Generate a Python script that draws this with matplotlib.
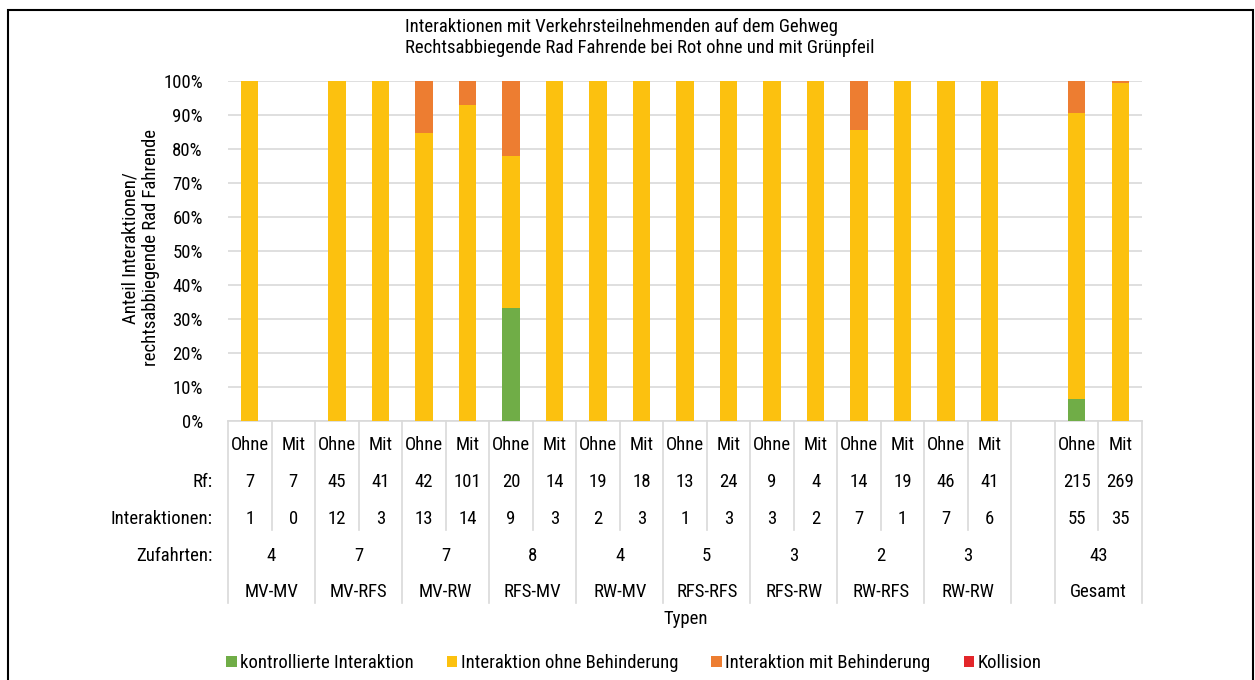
import matplotlib
matplotlib.use("Agg")
import matplotlib.pyplot as plt
from matplotlib.transforms import blended_transform_factory
from matplotlib.patches import Rectangle
import numpy as np

plt.rcParams['font.family'] = ['Roboto Condensed', 'DejaVu Sans']
FS = 13.5

# ---------------- data ----------------
groups = ["MV-MV", "MV-RFS", "MV-RW", "RFS-MV", "RW-MV", "RFS-RFS", "RFS-RW", "RW-RFS", "RW-RW", "Gesamt"]
zufahrten = ["4", "7", "7", "8", "4", "5", "3", "2", "3", "43"]
sub_labels = ["Ohne", "Mit"] * 10
rf = ["7", "7", "45", "41", "42", "101", "20", "14", "19", "18", "13", "24", "9", "4", "14", "19", "46", "41", "215", "269"]
interaktionen = ["1", "0", "12", "3", "13", "14", "9", "3", "2", "3", "1", "3", "3", "2", "7", "1", "7", "6", "55", "35"]

series_names = ["kontrollierte Interaktion", "Interaktion ohne Behinderung", "Interaktion mit Behinderung", "Kollision"]
kontrolliert = [0, 0, 0, 0, 0, 0, 33.3, 0, 0, 0, 0, 0, 0, 0, 0, 0, 0, 0, 6.5, 0]
ohne_beh = [100, 0, 100, 100, 84.6, 92.9, 44.5, 100, 100, 100, 100, 100, 100, 100, 85.7, 100, 100, 100, 84.0, 99.3]
mit_beh = [0, 0, 0, 0, 15.4, 7.1, 22.2, 0, 0, 0, 0, 0, 0, 0, 14.3, 0, 0, 0, 9.5, 0.7]
kollision = [0] * 20
colors = ["#70AD47", "#FCC10F", "#ED7D31", "#E3262A"]

# ---------------- layout ----------------
W, H = 1255, 680
fig = plt.figure(figsize=(W / 100, H / 100), dpi=100)
ax = fig.add_axes([228 / W, 1 - 421 / H, (1142 - 228) / W, (421 - 81) / H])

# slot positions: 9 groups x 2, gap, Gesamt x 2
positions = list(range(18)) + [19, 20]
x = np.array(positions, dtype=float)

bottom = np.zeros(20)
for vals, c, name in zip([kontrolliert, ohne_beh, mit_beh, kollision], colors, series_names):
    v = np.array(vals)
    ax.bar(x, v, width=0.4, bottom=bottom, color=c, label=name, zorder=3, linewidth=0)
    bottom += v

ax.set_xlim(-0.5, 20.5)
ax.set_ylim(0, 100)
ax.set_yticks(np.arange(0, 101, 10))
ax.set_yticklabels([f"{t}%" for t in range(0, 101, 10)], fontsize=FS)
ax.set_xticks([])
ax.tick_params(axis='y', length=0, pad=18)
for s in ["left", "right", "top"]:
    ax.spines[s].set_visible(False)
ax.spines["bottom"].set_color("#d9d9d9")
ax.spines["bottom"].set_linewidth(1.2)
ax.yaxis.grid(True, color="#d9d9d9", linewidth=1.2, zorder=0)
ax.set_axisbelow(True)

fig.text(640 / W, 1 - 37.5 / H,
         "Interaktionen mit Verkehrsteilnehmenden auf dem Gehweg\n"
         "Rechtsabbiegende Rad Fahrende bei Rot ohne und mit Grünpfeil",
         ha="center", va="center", multialignment="left", fontsize=FS, linespacing=1.25)

fig.text(141 / W, 1 - 248 / H, "Anteil Interaktionen/\nrechtsabbiegende Rad Fahrende",
         rotation=90, ha="center", va="center", fontsize=FS, linespacing=1.15)

# ---------------- table below ----------------
tr = blended_transform_factory(ax.transData, fig.transFigure)
def fy(py):
    return 1 - py / H

line_kw = dict(color="#d9d9d9", linewidth=1.2, transform=tr, clip_on=False)
full_edges = [-0.5 + 2 * i for i in range(10)] + [18.5, 20.5]
inner_edges = [0.5 + 2 * i for i in range(9)] + [19.5]
for e in full_edges:
    ax.plot([e, e], [fy(421), fy(603)], **line_kw)
for e in inner_edges:
    ax.plot([e, e], [fy(421), fy(530)], **line_kw)

for xi, sl, r, it in zip(x, sub_labels, rf, interaktionen):
    ax.text(xi, fy(445), sl, ha="center", va="center", fontsize=FS, transform=tr)
    ax.text(xi, fy(482), r, ha="center", va="center", fontsize=FS, transform=tr)
    ax.text(xi, fy(519), it, ha="center", va="center", fontsize=FS, transform=tr)

centers = [0.5 + 2 * i for i in range(9)] + [19.5]
for cx, g, z in zip(centers, groups, zufahrten):
    ax.text(cx, fy(556), z, ha="center", va="center", fontsize=FS, transform=tr)
    ax.text(cx, fy(592), g, ha="center", va="center", fontsize=FS, transform=tr)

for label, py in [("Rf:", 482), ("Interaktionen:", 519), ("Zufahrten:", 556)]:
    fig.text(213 / W, fy(py), label, ha="right", va="center", fontsize=FS)

fig.text(686 / W, fy(619), "Typen", ha="center", va="center", fontsize=FS)

# ---------------- legend ----------------
handles, labels = ax.get_legend_handles_labels()
leg = fig.legend(handles, labels, loc="center", bbox_to_anchor=(634 / W, fy(663)),
                 ncol=4, frameon=False, fontsize=FS, handlelength=0.55, handleheight=0.55,
                 handletextpad=0.2, columnspacing=1.75, borderpad=0)

# figure frame
fig.patches.append(Rectangle((8 / W, -0.01), (1253 - 8) / W, 1 - 10 / H + 0.01,
                             transform=fig.transFigure, fill=False, edgecolor="black", linewidth=1.5))

fig.savefig("out.png", dpi=100)
